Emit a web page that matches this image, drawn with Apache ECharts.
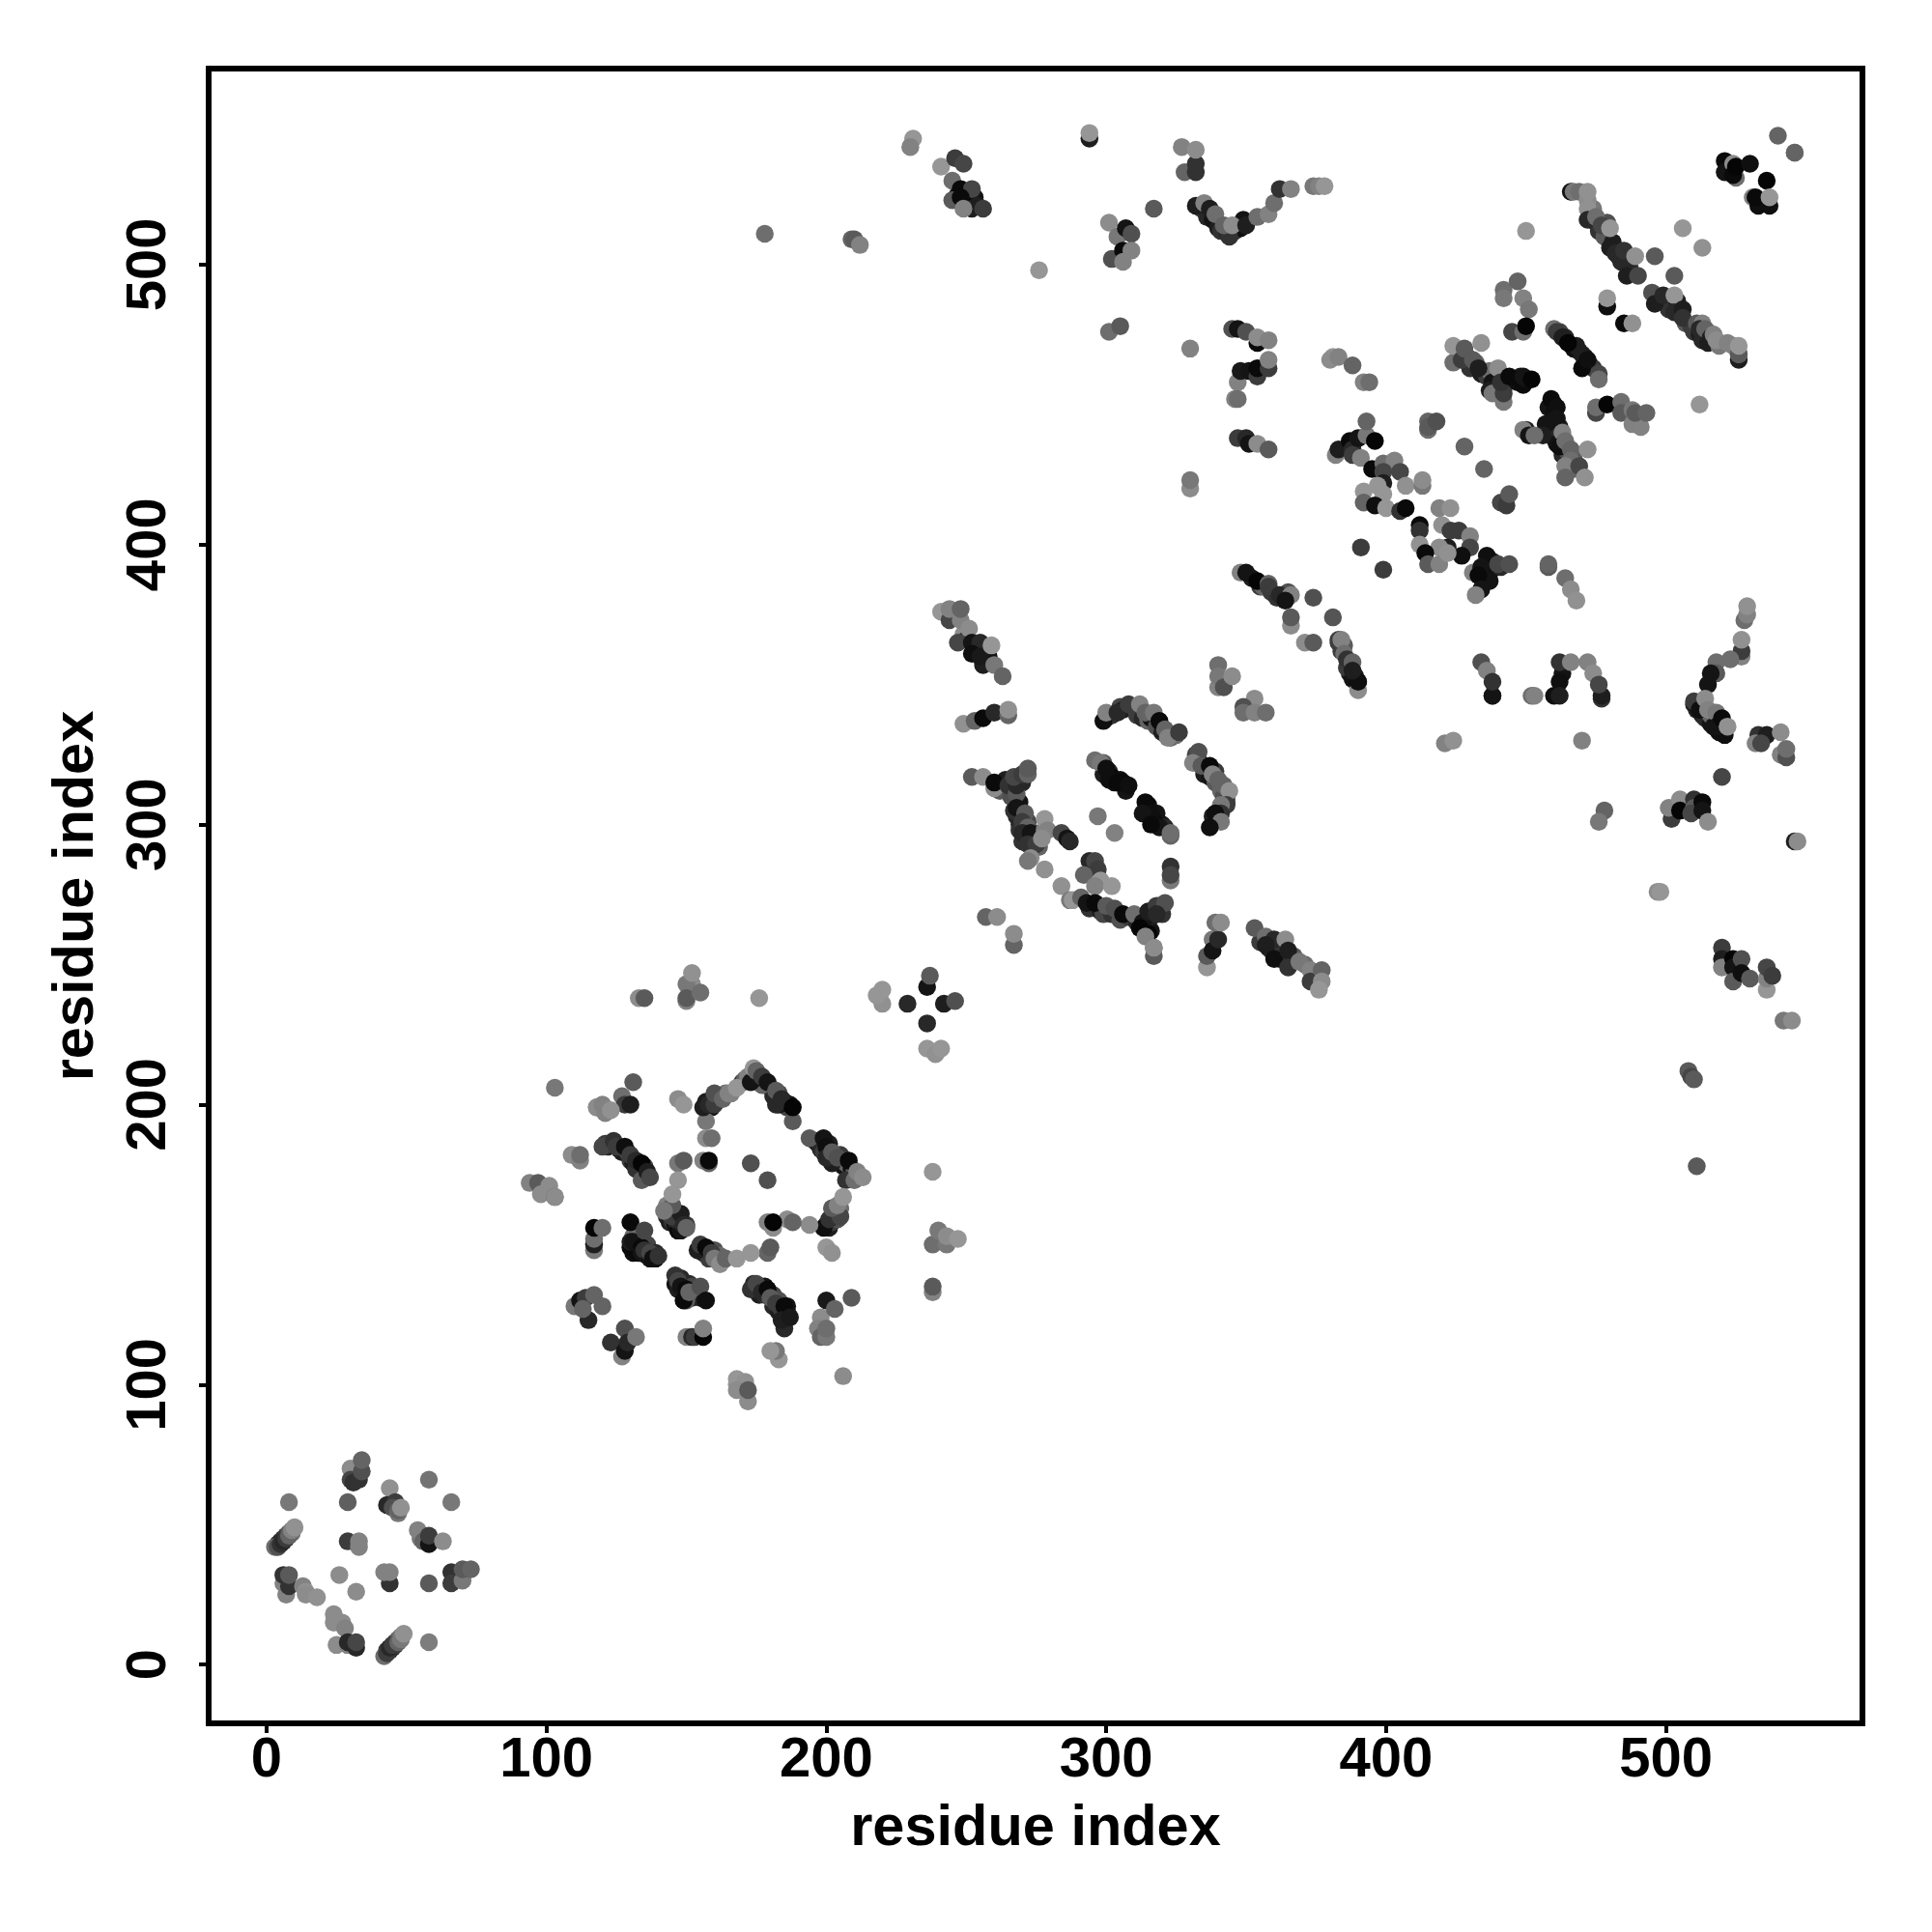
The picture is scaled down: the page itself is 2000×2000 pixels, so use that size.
<!DOCTYPE html>
<html><head><meta charset="utf-8">
<style>html,body{margin:0;padding:0;background:#fff}#c{width:2000px;height:2000px}</style>
<script src="https://cdn.jsdelivr.net/npm/echarts@6/dist/echarts.min.js"></script>
</head><body><div id="c"></div>
<script>
// each contact: [residue i, residue j, grey shade]
const xTicks=[0,100,200,300,400,500];
const yTicks=[0,100,200,300,400,500];
const axisTitle='residue index';
const bandsLow=[[4,43,50],[5,44,40],[6,45,50],[7,46,60],[8,47,90],[9,47,110],[43,5,60],[44,5,50],[45,6,40],[46,7,60],[46,8,70],[47,9,100],[48,10,120],
[121,186,60],[122,185,40],[123,186,70],[126,184,50],[127,183,30],[129,183,70],[130,180,60],[131,179,30],[133,177,60],[135,175,30],[135,178,70],[136,174,50],[133,179,20],[132,177,50],
[176,208,40],[178,207,70],[180,206,90],[181,203,40],[183,204,70],[185,201,30],[186,199,70],[187,200,20],[183,200,20],[177,207,100],
[196,187,40],[197,186,20],[198,184,40],[199,183,60],[201,186,30],[203,180,50],[205,182,60],[206,178,20],[207,179,100],[209,177,20],[210,176,90],[202,179,30],
[200,157,20],[201,156,30],[202,158,60],[203,161,70],[204,159,80],[204,162,100],[205,163,110],
[174,136,40],[176,135,50],[176,132,30],[178,132,50],[178,135,20],[181,132,70],[181,128,40],[183,130,80],[183,126,30],[185,125,20],[186,126,30],[186,128,20],[184,127,60],
[146,136,20],[148,138,40],[149,136,60],[149,133,30],[151,136,40],[152,135,70],[153,133,90],[152,131,40],[147,134,30],[155,131,30],[150,130,90],
[131,147,15],[132,150,60],[132,148,20],[133,151,40],[133,147,10],[136,150,70],[136,146,20],[139,147,40],[139,145,10],[131,153,110],
[156,149,40],[156,147,30],[158,148,90],[158,145,60],[160,148,80],[162,146,110],[163,145,80],[161,146,100],
[143,160,40],[144,158,30],[145,158,50],[146,157,20],[147,157,60],[147,155,10],[148,155,20],[150,157,60],[144,161,90],
[157,201,30],[159,199,20],[161,202,40],[162,203,90],[164,204,110],[166,204,130],[170,208,50],[171,209,100],[172,210,130],[174,209,60],
[246,375,120],[249,368,140],[250,366,50],[254,362,20],[257,361,40],[258,358,15],[253,363,20],[256,363,40],
[262,312,90],[264,316,30],[266,315,50],[269,315,70],[270,315,40],[266,310,80],[269,308,20],[269,305,40],[270,302,30],[269,300,40],[271,296,30],[272,301,70],[274,295,60],[276,292,100],
[299,322,90],[299,318,30],[301,319,40],[302,317,10],[303,315,20],[305,316,15],[306,315,10],[307,312,20],
[315,307,15],[315,305,20],[317,303,15],[318,302,30],[318,304,20],[320,300,20],[321,299,40],[317,301,10],
[300,338,20],[302,339,50],[305,342,70],[306,341,30],[310,342,90],[311,339,60],[313,338,40],[315,337,100],[316,338,20],[318,335,80],[320,333,30],[323,331,100],[325,332,110],
[332,325,70],[333,323,50],[335,318,30],[336,320,50],[337,317,20],[339,315,90],[339,319,60],[341,312,100],[343,310,30],[342,310,80],[343,308,50],[338,303,30],
[294,270,50],[297,271,40],[298,269,30],[299,268,70],[302,268,50],[305,266,80],[308,267,60],[311,265,40],[314,266,30],[315,264,15],[316,262,20],[319,270,40],[320,268,50],[316,267,30],[313,267,60],
[269,298,50],[271,299,30],[272,295,30],[274,297,50],[275,295,30],[270,294,50],[268,303,40],[267,305,50],
[352,388,30],[355,385,60],[356,385,100],[359,383,60],[361,381,50],[363,382,110],[365,383,80],
[384,362,60],[385,364,90],[387,356,40],[387,354,30],[389,353,30],[386,356,60],[388,352,20],
[355,258,60],[358,256,20],[359,255,40],[361,255,15],[362,252,30],[363,256,50],[366,251,50],[367,253,90],[371,250,110],[374,246,70],[376,245,110],
[426,467,80],[429,467,60],[430,463,50],[432,465,100],[434,461,30],[436,460,60],[437,462,110],[438,458,20],[440,456,30],[437,455,30],[442,456,40],[446,459,20],[447,458,15],[448,460,30],[449,457,10],[450,459,15],
[460,450,15],[458,449,20],[460,447,15],[459,444,20],[458,441,30],[462,442,30],[460,438,40],[461,436,20],[463,432,40],[465,433,80],[467,431,90],[467,427,100],
[462,476,70],[464,474,40],[467,470,15],[469,469,20],[468,471,30],[471,467,20],[473,464,40],[474,463,60],[470,468,30],
[436,392,10],[437,390,15],[438,394,30],[439,392,20],[435,387,15],[434,391,10],[437,387,20],[441,392,40],
[473,518,90],[474,520,120],[475,515,40],[476,512,50],[478,510,90],[479,515,80],[481,508,30],[483,503,30],[484,501,40],[487,499,40],[500,486,40],[501,484,50],[504,487,30],[505,483,30],[507,479,90],[509,478,60],[510,476,60],[512,475,30],[513,473,40],[515,476,110],[515,472,30],[519,471,120],[524,471,130],
[511,341,30],[513,339,30],[514,338,40],[516,336,20],[517,338,50],[519,333,15],[519,336,30],[516,339,100],[517,335,20],
[334,520,60],[336,517,40],[338,516,20],[340,513,30],[341,512,50],[343,512,40],[346,512,60],[348,513,15],[349,516,20],
[247,525,15],[250,525,10],[253,524,20],[251,522,10],[254,521,30]];
const domainA=[[8,58,120],[29,58,95],[58,66,115],[66,58,120],[44,63,145],
[30,70,140],[30,66,70],[31,65,50],[33,66,50],[34,69,80],[34,73,100],
[43,57,40],[46,58,60],[45,56,80],[47,54,120],[47,55,100],[48,56,145],
[3,42,110],[4,42,80],[5,43,50],[6,44,40],[7,45,60],[8,46,100],[9,48,130],[10,49,145],
[55,45,120],[54,48,130],[56,44,100],[58,43,20],[58,46,60],[63,44,140],
[29,44,60],[33,44,130],[33,42,130],
[6,29,130],[7,25,130],[8,28,50],[6,32,50],[8,32,90],
[13,28,130],[14,26,145],[14,25,140],[18,24,145],
[26,32,140],[32,26,140],[44,29,50],[42,33,130],[44,33,130],[58,29,90],
[66,33,50],[66,29,60],[70,30,120],[70,34,90],[73,34,100],
[24,18,140],[24,15,140],[27,15,140],[28,13,130],[25,7,140],[29,7,130],[29,8,40],[32,6,40],[32,8,70],
[42,3,110],[43,4,60],[44,6,40],[45,7,60],[47,8,100],[48,9,120],[49,11,145],[58,8,125]];
const domainB=[[133,238,140],[135,238,90],[152,243,140],[150,243,120],[150,237,130],[150,238,90],[155,240,110],[152,247,145],
[176,238,150],[220,236,145],[218,239,150],[220,241,150],
[236,242,20],[237,246,90],[229,236,40],[242,236,30],[246,237,80],[236,229,40],
[236,220,150],[239,218,145],[241,220,150],[238,176,150],
[238,150,110],[240,155,120],[243,150,120],[243,153,140],[247,152,150],[238,133,130],[238,135,90],
[103,206,120],[131,208,90],[127,203,110],[128,200,60],[130,200,30],
[118,199,130],[118,199,140],[121,197,130],[120,200,130],[123,198,145],
[147,202,140],[149,200,150],
[157,194,120],[156,199,30],[158,200,40],[160,200,60],[160,204,80],[163,202,100],[165,204,130],[168,206,150],
[173,208,20],[174,213,150],
[157,188,140],[159,188,110],[156,180,130],[158,179,100],[158,180,10],
[147,179,120],[149,180,90],[146,159,40],[145,160,60],[148,161,30],[149,157,40],[150,156,100],[143,164,130],[145,164,90],[142,162,120],[147,173,150],[145,168,150],
[188,194,90],[175,212,100],[177,210,60],[179,208,20],[182,200,40],[182,205,90],[184,202,40],[188,199,5],
[194,188,90],[199,188,20],[200,185,15],[200,181,40],[202,183,90],[204,181,80],[208,180,10],[207,173,50],[210,173,110],[211,176,130],[213,174,140],
[199,156,15],[201,159,50],[205,160,70],[202,163,90],[204,164,130],[206,167,150],
[194,157,140],[186,159,140],[188,158,100],[179,158,130],[181,156,140],[181,158,5],
[173,179,80],[179,173,80],[179,147,100],[180,149,90],[200,149,150],[202,147,145],
[154,148,30],[155,150,60],[157,149,10],[159,147,60],[160,145,120],[162,143,140],[164,145,100],[168,145,150],[173,147,150],
[185,120,40],[173,134,50],[175,136,70],[177,133,40],[179,134,10],[180,131,90],[182,129,60],[185,128,10],[184,123,30],[187,124,25],
[183,109,150],[182,112,120],[180,112,150],[206,103,140],
[168,102,150],[168,100,150],[171,101,145],[168,98,140],[172,94,140],[172,98,90],
[146,139,50],[147,137,70],[148,135,20],[150,134,10],[149,130,10],[151,133,100],[155,135,80],[157,130,15],
[130,158,10],[130,149,10],[130,151,30],[131,151,20],[134,149,10],[134,147,20],[135,148,50],[137,145,20],[137,147,70],[138,145,15],[140,146,50],[135,155,70],
[117,148,120],[117,150,30],[117,152,110],[117,156,5],[120,156,110],
[110,128,120],[112,130,20],[114,131,60],[115,123,40],[113,127,100],[117,132,100],[120,128,100],
[128,120,80],[123,115,50],[127,110,130],[128,112,20],[129,115,40],[132,117,120],
[150,117,130],[152,117,40],[153,117,60],[156,117,5],[156,120,130],
[198,124,140],[197,120,130],[198,117,100],[200,117,120],[200,120,110],
[200,130,25],[203,127,100],[209,131,90],
[94,172,130],[97,172,90],[98,168,140],[101,171,140],[103,167,90],[103,167,140],
[109,182,140],[112,180,130],[112,182,110],
[120,185,70],[124,187,50],[125,185,60],[128,185,15],[130,182,60],[132,180,40],[134,179,5],[134,173,90],[136,176,30],[137,174,70]];
const domainC=[[241,376,150],[244,373,70],[248,373,130],[244,377,130],[248,377,100],[251,370,140],
[247,365,70],[252,365,20],[255,365,40],[252,361,15],[258,360,20],[256,357,30],[255,360,25],[259,364,150],[260,357,120],[263,353,100],
[249,336,145],[253,337,100],[256,338,10],[260,340,40],[265,339,100],[265,341,145],
[252,317,90],[256,317,140],[260,313,140],[260,315,10],[265,314,50],[268,311,90],[268,314,40],[267,317,70],[270,318,60],[272,318,100],[272,320,90],
[268,306,20],[271,304,90],[270,301,60],[272,299,100],[270,297,40],[273,297,20],[272,293,50],[275,293,60],
[273,288,140],[272,287,120],[278,284,145],[284,278,145],[287,273,120],[288,273,150],
[278,298,130],[278,302,150],[279,298,130],[277,295,140],[284,297,70],[286,295,20],[287,294,40],
[294,287,40],[296,287,70],[297,284,60],[292,282,100],[298,280,150],[296,278,130],[302,278,150],
[291,274,100],[293,272,20],[296,272,10],[300,271,90],[303,270,80],[306,268,10],[310,268,110],[313,265,20],[312,263,5],[315,269,30],[318,271,60],[321,272,80],[318,268,40],[315,261,5],[314,260,130],[317,256,90],[317,253,90],[317,256,140],
[257,267,100],[261,267,140],[267,257,100],[267,261,140],
[323,285,50],[323,280,120],[323,282,70],[297,303,120],[303,297,130],
[296,323,110],[298,322,120],[300,320,15],[301,316,15],[304,315,10],[308,314,15],
[314,308,10],[316,304,15],[313,304,20],[319,299,20],[316,300,10],[323,296,100],[323,297,110],
[299,337,15],[300,340,130],[304,340,40],[308,343,60],[312,343,130],[314,340,100],[317,340,120],[319,337,10],[321,334,100],[322,331,130],[326,333,60],
[333,326,80],[331,322,130],[334,321,90],[337,321,10],[338,318,130],[340,316,100],[342,314,100],[344,312,145],
[343,307,60],[341,307,120],[341,304,50],[339,304,15],[341,301,120],[337,299,15],
[340,357,110],[340,349,130],[340,353,120],[342,349,80],[345,353,140],
[353,345,140],[349,342,80],[349,340,110],[353,340,130],[357,340,110],
[353,263,90],[357,260,110],[360,259,40],[364,259,140],[357,257,30],[360,252,15],[365,255,30],[365,249,50],[369,251,120],[373,248,130],[373,244,60],[377,248,100],[377,244,140],[376,241,150],
[336,249,150],[336,253,90],[338,259,120],[338,255,20],[340,259,40],[339,265,110],[341,265,140]];
const domainD=[[345,477,80],[347,477,20],[350,476,80],[354,472,10],[354,474,140],[358,473,130],
[347,458,130],[348,462,25],[351,462,20],[354,460,60],[354,463,10],[358,463,60],[358,466,130],
[346,452,130],[347,452,110],[347,438,60],[350,438,40],[351,436,20],[354,436,140],[358,434,90],
[348,390,130],[350,390,20],[354,387,5],[358,386,100],[358,385,60],[362,382,40],[366,382,130],[364,380,20],
[374,381,80],[366,371,140],[366,374,90],[381,374,85],[371,365,140],[374,365,90],
[383,366,60],[383,365,60],[384,366,130],[385,361,110],[386,359,50],[390,351,15],[388,358,100],[390,348,140],[390,351,15],[388,355,30],
[381,467,150],[380,466,140],[383,467,130],[388,464,100],[392,458,130],[394,458,110],
[382,432,130],[383,434,30],[387,437,10],[388,434,40],[388,432,60],[391,431,130],[390,438,20],[393,439,120],[393,444,100],[396,437,5],
[395,427,10],[399,429,110],[403,430,130],[399,426,70],[405,426,70],[399,422,30],[397,421,150],[407,421,145],[413,421,120],[413,423,140],
[392,419,150],[399,418,150],[392,415,100],[396,414,15],[400,413,150],[405,412,50],[407,413,10],[419,413,130],[423,413,145],
[412,407,10],[412,405,50],[420,407,145],[423,405,60],[426,405,60],[430,403,130],[430,399,70],[427,396,15],[422,399,30],[419,399,140],[412,400,145],[414,397,10],[415,393,90],[419,393,130],[422,397,145],
[391,399,60],[399,391,60],
[431,390,130],[436,396,15],[434,392,20],[433,389,10],[434,384,20],[432,382,130],[440,393,70],[444,393,80],
[458,392,90],[458,393,100],[464,388,110],[466,384,140],[468,380,145],
[428,435,100],[435,427,100],[415,441,110],[415,444,100],[415,442,90],[418,444,80],
[441,415,70],[443,414,60],[444,418,90],
[424,465,110],[424,471,150],[427,466,60],[428,470,90],[431,466,90],[433,463,30],[434,472,145],[440,463,140],
[438,454,120],[442,451,120],[442,454,60],[441,458,50],[444,460,10],[449,460,20],[452,459,5],
[459,452,10],[461,449,15],[461,445,20],[457,443,20],[450,441,30],[449,441,130],[451,439,20],[456,439,30],[453,439,110],
[463,440,130],[462,435,15],[464,437,110],[466,434,100],[472,434,145],[466,430,110],[464,428,130],[469,428,70],[464,424,100],[471,424,145],
[475,447,70],[475,449,110],[479,450,5],[484,451,110],[484,447,90],[488,448,120],[488,443,130],[491,442,130],[489,447,90],[493,447,100],
[460,477,110],[461,476,60],[463,474,30],[465,472,5],[470,463,10],[472,466,15],[476,461,70],[476,459,110],
[434,358,80],[436,355,130],[438,346,100],[438,346,20],[438,351,50],[452,346,110],[453,346,130],
[460,346,15],[463,354,20],[462,358,50],[462,351,15],[462,346,30],[466,358,130],
[472,358,130],[474,354,140],[477,345,50],[477,346,30],[476,350,70],
[421,329,130],[424,330,145],[470,330,130]];
const domainE=[[450,512,150],[442,491,110],[442,488,120],[447,494,100],[449,488,130],[451,484,120],
[445,476,70],[449,476,110],[450,478,5],
[479,485,15],[479,488,150],[485,479,10],[488,479,145],[496,503,90],[503,496,90],[506,513,150],[513,506,145],[512,450,150],
[466,526,20],[467,526,120],[469,526,110],[472,523,140],[472,526,145],[472,520,145],[472,516,40],[475,517,110],[477,514,70],[480,513,150],
[480,506,30],[482,504,40],[485,505,50],[489,503,145],[486,496,30],[490,496,70],
[495,490,80],[496,486,30],[499,489,40],[503,489,150],[503,483,40],[506,484,30],[506,481,50],[511,479,90],[513,479,130],[512,477,40],[514,477,100],[516,474,30],[517,475,130],[518,473,140],[522,472,130],
[526,466,30],[526,468,130],[526,468,90],[526,471,150],
[521,537,10],[521,533,20],[524,536,140],[525,531,110],[524,532,10],[525,535,5],[530,536,15],[536,530,5],[531,524,130],[533,521,15],[537,521,15],[532,524,10],[537,524,150],
[540,546,100],[546,540,130],[546,540,100],
[178,511,110],[209,509,100],[210,509,90],[212,507,130],[231,545,150],[230,542,130],
[241,535,150],[246,538,60],[249,536,70],[245,530,110],[248,527,10],[252,527,70],[245,523,90],[248,524,10],[252,520,30],[249,520,130],[256,520,60],
[294,545,30],[294,547,150],[276,498,150],
[302,502,80],[301,515,140],[304,510,120],[307,513,20],[309,511,80],[306,505,10],[309,505,130],[306,501,130],[317,520,90],
[327,542,130],[328,533,100],[332,533,50],[332,536,50],[332,541,140],
[332,521,30],[335,522,130],[337,520,30],[339,518,110],[344,510,50],[342,514,100],[345,514,140],[350,514,30],[354,517,110],[358,518,130],[360,522,110],[362,527,50],[366,527,130],[374,528,120],[376,528,130],[378,528,150],
[301,476,110],[305,478,90],[330,470,130],[330,420,140],[330,423,120]];
const domainF=[[528,373,110],[529,375,130],[529,378,145],[527,360,130],[527,362,60],[527,366,145],
[523,359,110],[518,358,110],[518,354,90],[516,354,20],[515,350,20],[510,343,30],[510,344,60],[512,341,15],[514,345,140],[515,341,130],[518,340,120],[521,332,15],[518,335,20],[520,338,10],[522,335,145],
[533,332,50],[536,332,30],[532,329,130],[534,329,70],[541,333,140],[541,325,130],[543,324,80],[543,327,110],
[520,317,70],[502,302,60],[501,306,130],[505,309,140],[505,305,5],[510,309,50],[510,306,90],[509,304,70],[513,308,10],[513,305,20],[515,301,140],
[478,305,100],[476,301,120],[546,294,30],[547,294,140],[497,276,140],[498,276,150],
[520,256,60],[520,252,30],[520,249,130],[524,252,5],[524,249,20],[524,244,90],[527,252,80],[527,247,15],[530,245,90],[536,241,150],[536,245,130],[536,249,70],[538,246,60],
[542,230,120],[545,230,140],[508,212,90],[509,210,70],[510,209,90],[511,178,90]];
const contacts=[bandsLow,domainA,domainB,domainC,domainD,domainE,domainF].flat();
const bold={fontFamily:'Liberation Sans',fontWeight:'bold',color:'#000',fontSize:58};
const titleStyle={...bold,fontSize:59.5};
const frameLine={show:true,onZero:false,lineStyle:{color:'#000',width:6}};
const chart=echarts.init(document.getElementById('c'),null,{renderer:'canvas'});
chart.setOption({
 animation:false,backgroundColor:'#fff',
 grid:{left:216,right:72,top:71,bottom:216,show:true,borderColor:'#000',borderWidth:6,backgroundColor:'transparent'},
 xAxis:{type:'value',min:-20.7,max:570.2,name:axisTitle,nameLocation:'middle',nameGap:80,nameTextStyle:titleStyle,
  splitLine:{show:false},axisLine:frameLine,
  axisTick:{show:true,length:10,customValues:xTicks,lineStyle:{color:'#000',width:4}},
  axisLabel:{show:true,customValues:xTicks,margin:10,...bold,hideOverlap:false}},
 yAxis:{type:'value',min:-21,max:570,name:axisTitle,nameLocation:'middle',nameGap:106,nameTextStyle:titleStyle,
  splitLine:{show:false},axisLine:frameLine,
  axisTick:{show:true,length:10,customValues:yTicks,lineStyle:{color:'#000',width:4}},
  axisLabel:{show:true,customValues:yTicks,rotate:90,margin:61,...bold,hideOverlap:false,align:'center',verticalAlign:'middle'}},
 series:[{type:'scatter',symbol:'circle',symbolSize:18.5,silent:true,data:contacts,large:false,
  itemStyle:{opacity:1,color:p=>{const g=p.value[2];return 'rgb('+g+','+g+','+g+')';}}}]
});
</script></body></html>
